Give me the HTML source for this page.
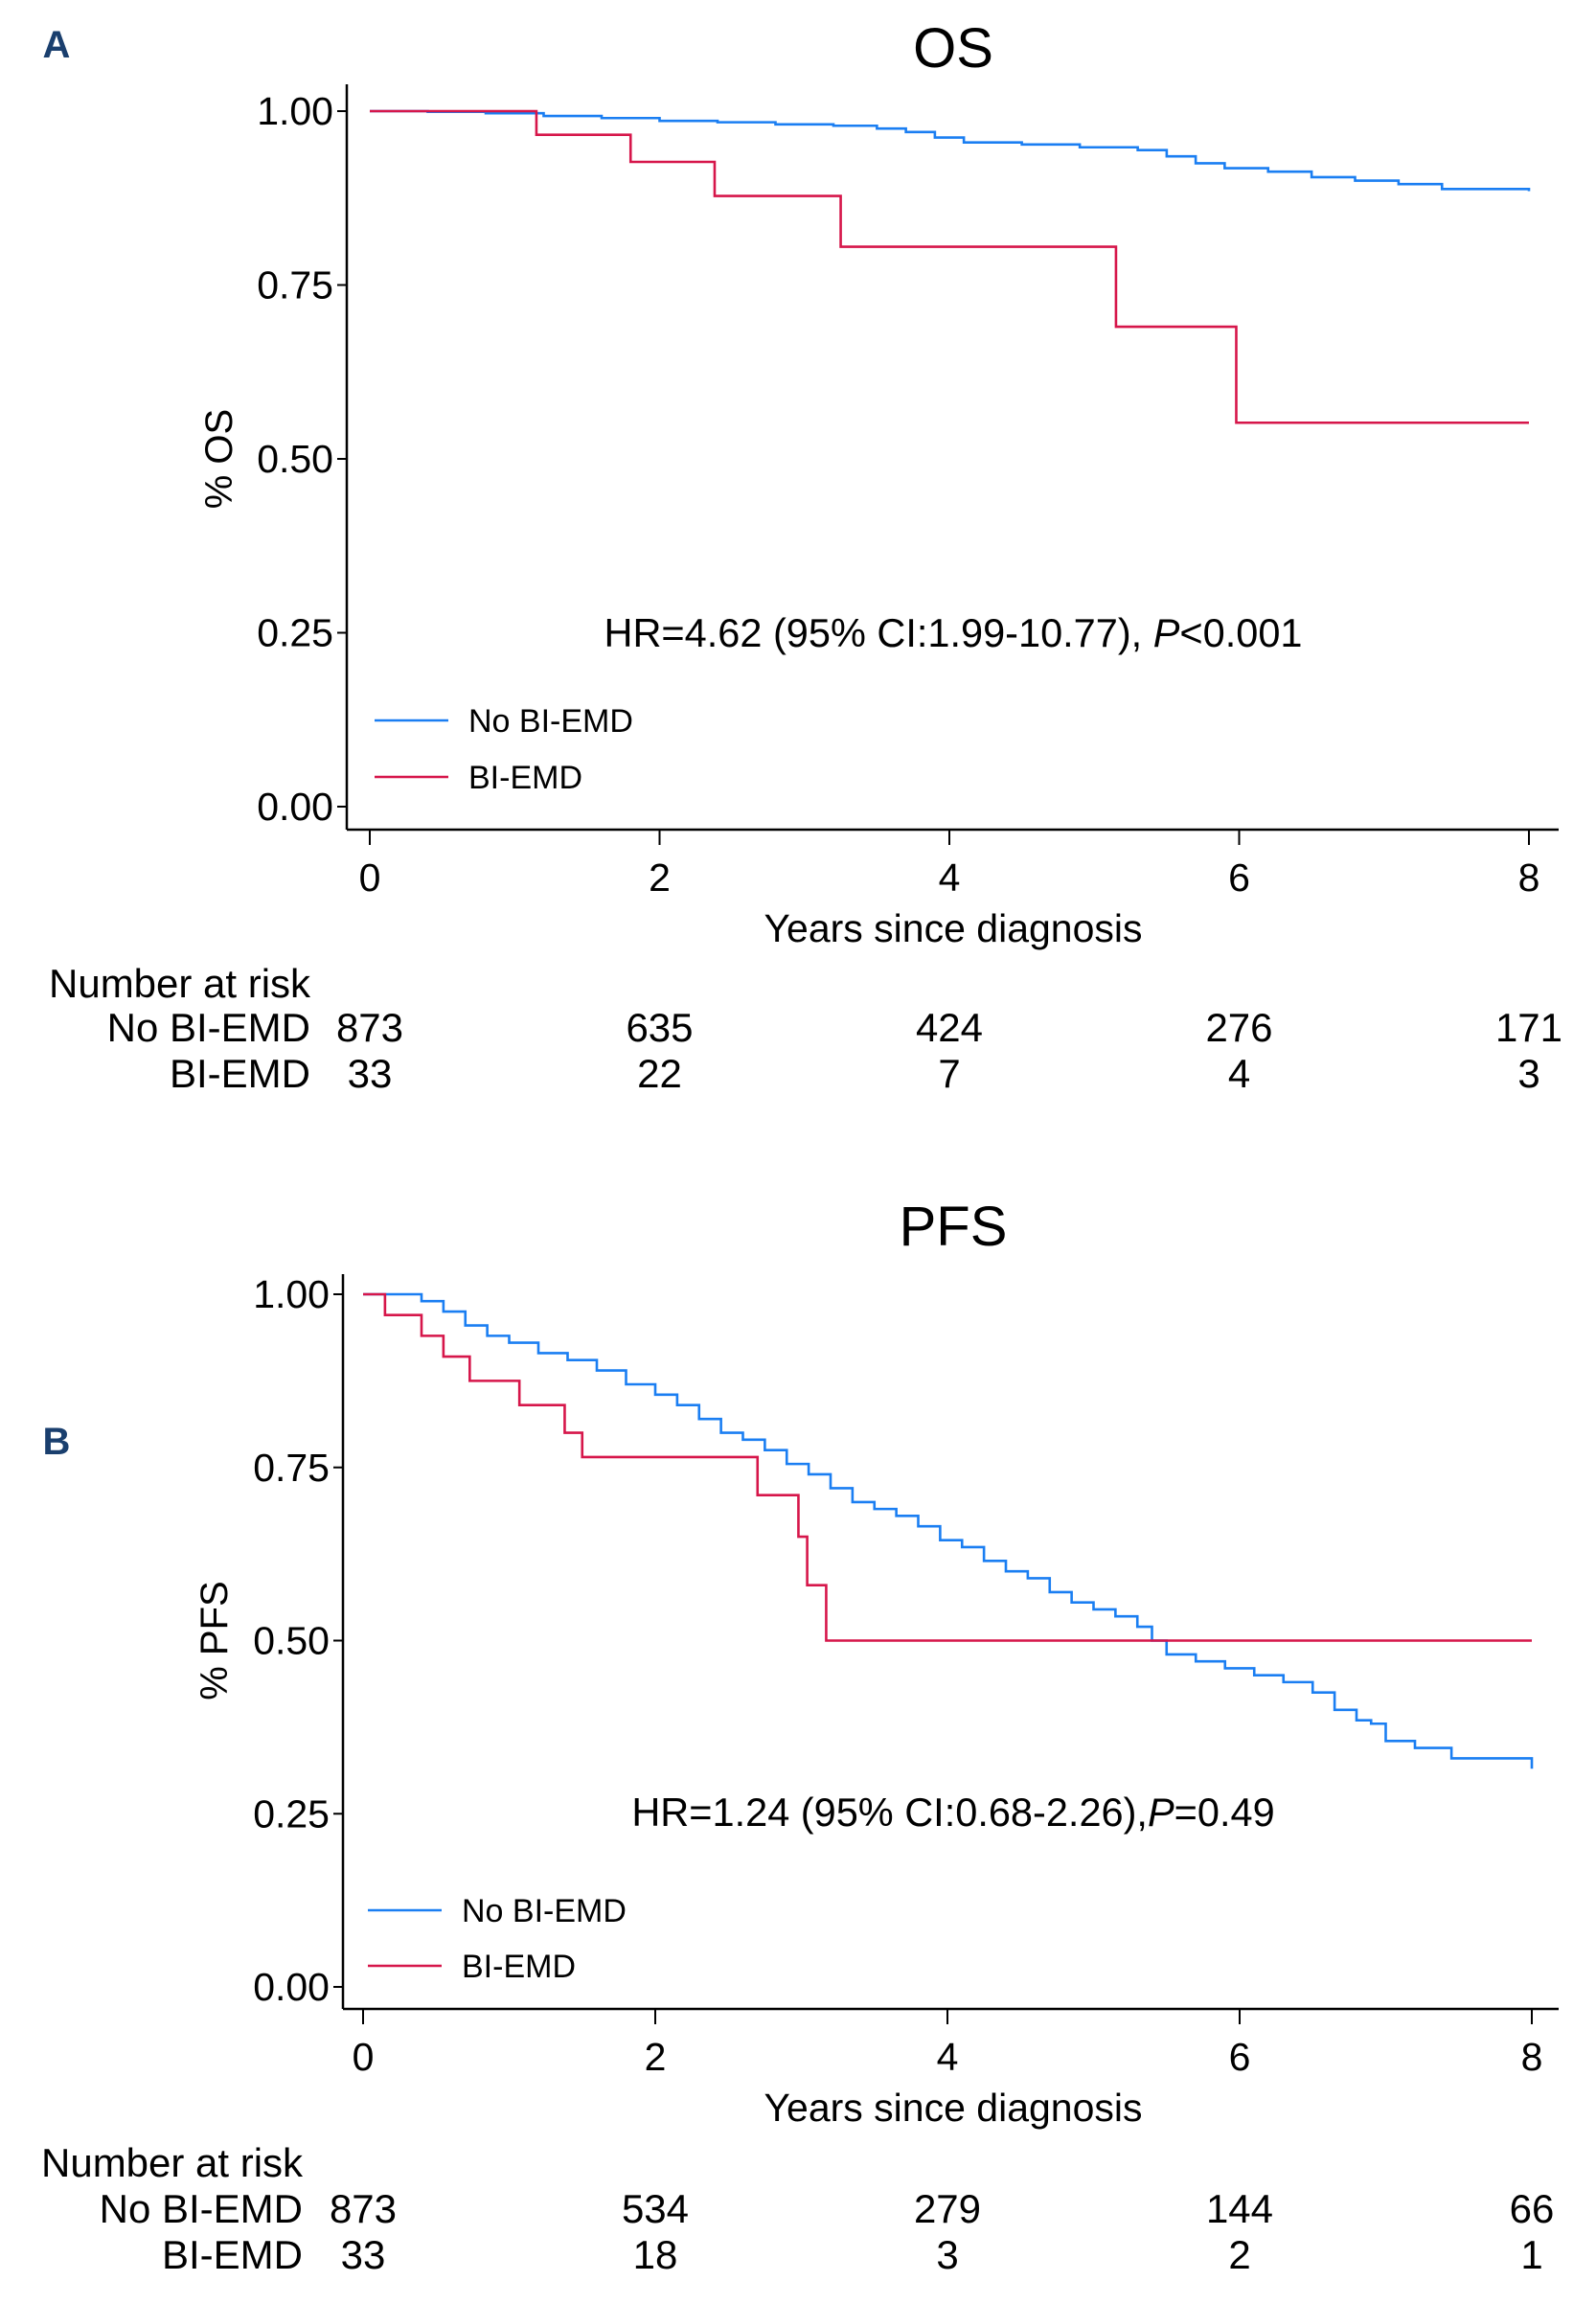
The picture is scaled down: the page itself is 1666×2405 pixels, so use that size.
<!DOCTYPE html>
<html><head><meta charset="utf-8"><style>
body{margin:0;background:#fff;}
svg{display:block;font-family:"Liberation Sans",Arial,sans-serif;}
</style></head><body>
<svg id="fig" width="1666" height="2405" viewBox="0 0 1666 2405" xmlns="http://www.w3.org/2000/svg"></svg>
<script>
// ---- Panel A (OS) data ----
const osBlueT = [0,0.4,0.8,1.2,1.6,2,2.4,2.8,3.2,3.5,3.7,3.9,4.1,4.5,4.9,5.3,5.5,5.7,5.9,6.2,6.5,6.8,7.1,7.4,8];
const osBlueS = [1,0.999,0.997,0.993,0.99,0.986,0.984,0.981,0.979,0.975,0.97,0.962,0.955,0.952,0.948,0.944,0.935,0.925,0.918,0.913,0.905,0.9,0.895,0.888,0.885];
const osRedT = [0,1.15,1.8,2.38,3.25,5.15,5.98,8];
const osRedS = [1,0.966,0.927,0.878,0.805,0.69,0.552,0.552];
const osRiskNo = ["873","635","424","276","171"];
const osRiskBi = ["33","22","7","4","3"];
// ---- Panel B (PFS) data ----
const pfsBlueT = [0,0.25,0.4,0.55,0.7,0.85,1,1.2,1.4,1.6,1.8,2,2.15,2.3,2.45,2.6,2.75,2.9,3.05,3.2,3.35,3.5,3.65,3.8,3.95,4.1,4.25,4.4,4.55,4.7,4.85,5,5.15,5.3,5.4,5.5,5.7,5.9,6.1,6.3,6.5,6.65,6.8,6.9,7,7.2,7.45,7.8,8];
const pfsBlueS = [1,1,0.99,0.975,0.955,0.94,0.93,0.915,0.905,0.89,0.87,0.855,0.84,0.82,0.8,0.79,0.775,0.755,0.74,0.72,0.7,0.69,0.68,0.665,0.645,0.635,0.615,0.6,0.59,0.57,0.555,0.545,0.535,0.52,0.5,0.48,0.47,0.46,0.45,0.44,0.425,0.4,0.385,0.38,0.355,0.345,0.33,0.33,0.315];
const pfsRedT = [0,0.15,0.4,0.55,0.73,1.07,1.38,1.5,2.7,2.98,3.04,3.17,8];
const pfsRedS = [1,0.97,0.94,0.91,0.875,0.84,0.80,0.765,0.71,0.65,0.58,0.5,0.5];
const pfsRiskNo = ["873","534","279","144","66"];
const pfsRiskBi = ["33","18","3","2","1"];
const xTicks = [0,2,4,6,8];
const yTicks = [0,0.25,0.5,0.75,1];
const yTickLabels = ["0.00","0.25","0.50","0.75","1.00"];

const NS="http://www.w3.org/2000/svg";
const svg=document.getElementById('fig');
function mk(tag,attrs,parent){const e=document.createElementNS(NS,tag);for(const k in attrs)e.setAttribute(k,attrs[k]);(parent||svg).appendChild(e);return e;}
function txt(s,x,y,size,anchor,parent,extra){const t=mk('text',Object.assign({x:x,y:y,'font-size':size,'text-anchor':anchor||'start',fill:'#000'},extra||{}),parent);t.textContent=s;return t;}

function panel(p){
  const g=mk('g',{});
  
  
  const X=t=>p.x0+(p.x8-p.x0)*t/8;
  const Y=v=>p.y0+(p.y1-p.y0)*v;
  let e=txt(p.letter,59,p.letterY,40,'middle',g,{'font-weight':'bold',fill:'#1a3f6e'});
  
  e=txt(p.title,995,p.titleY,58,'middle',g);
  
  e=mk('line',{x1:p.ax,y1:p.axTop,x2:p.ax,y2:p.axBot,stroke:'#000','stroke-width':2.5},g);
  
  e=mk('line',{x1:p.ax,y1:p.axBot,x2:1627,y2:p.axBot,stroke:'#000','stroke-width':2.5},g);
  
  yTicks.forEach((v,i)=>{
    mk('line',{x1:p.ax-10,y1:Y(v),x2:p.ax,y2:Y(v),stroke:'#000','stroke-width':2},g);
    const t=txt(yTickLabels[i],p.ax-14,Y(v)+14,41,'end',g);
    
  });
  xTicks.forEach(v=>{
    mk('line',{x1:X(v),y1:p.axBot,x2:X(v),y2:p.axBot+16,stroke:'#000','stroke-width':2},g);
    const t=txt(String(v),X(v),p.axBot+64,41,'middle',g);
    
  });
  e=txt('Years since diagnosis',995,p.axBot+117,41,'middle',g);
  
  const yc=(p.y0+p.y1)/2;
  e=txt(p.ylab,p.ylabX,yc,40,'middle',g,{transform:`rotate(-90 ${p.ylabX} ${yc})`});
  
  function step(T,S,color,name){
    let d=`M${X(T[0])},${Y(S[0])}`;
    for(let i=1;i<T.length;i++){d+=` H${X(T[i])} V${Y(S[i])}`;}
    const path=mk('path',{d:d,fill:'none',stroke:color,'stroke-width':2.6},g);
    
    
  }
  step(p.bT,p.bS,'#1a7ef2','curve-no-bi-emd');
  step(p.rT,p.rS,'#d6164a','curve-bi-emd');
  e=txt('',995,p.hrY,41.5,'middle',g);
  
  e.innerHTML=p.hr;
  const lg=mk('g',{},g);
  
  mk('line',{x1:p.lx,y1:p.l1,x2:p.lx+77,y2:p.l1,stroke:'#1a7ef2','stroke-width':2.6},lg);
  e=txt('No BI-EMD',p.lx+98,p.l1+12,34,'start',lg);
  
  mk('line',{x1:p.lx,y1:p.l2,x2:p.lx+77,y2:p.l2,stroke:'#d6164a','stroke-width':2.6},lg);
  e=txt('BI-EMD',p.lx+98,p.l2+12,34,'start',lg);
  
  const rt=mk('g',{},g);
  
  txt('Number at risk',p.rx,p.r0,42,'start',rt);
  txt('No BI-EMD',p.rr,p.r1,42,'end',rt);
  txt('BI-EMD',p.rr,p.r2,42,'end',rt);
  xTicks.forEach((v,i)=>{
    txt(p.rNo[i],X(v),p.r1,42,'middle',rt);
    txt(p.rBi[i],X(v),p.r2,42,'middle',rt);
  });
}
panel({name:'panel-a-os',letter:'A',letterY:60,title:'OS',titleY:70,x0:386,x8:1596,y0:842,y1:116,ax:362,axTop:88,axBot:866,
  ylab:'% OS',ylabX:242,bT:osBlueT,bS:osBlueS,rT:osRedT,rS:osRedS,
  hr:'HR=4.62 (95% CI:1.99-10.77), <tspan font-style="italic">P</tspan>&lt;0.001',hrY:675,
  lx:391,l1:752,l2:811,rx:51,rr:324,r0:1041,r1:1087,r2:1135,rNo:osRiskNo,rBi:osRiskBi});
panel({name:'panel-b-pfs',letter:'B',letterY:1518,title:'PFS',titleY:1300,x0:379,x8:1599,y0:2074,y1:1351,ax:358,axTop:1330,axBot:2097,
  ylab:'% PFS',ylabX:237,bT:pfsBlueT,bS:pfsBlueS,rT:pfsRedT,rS:pfsRedS,
  hr:'HR=1.24 (95% CI:0.68-2.26),<tspan font-style="italic">P</tspan>=0.49',hrY:1906,
  lx:384,l1:1994,l2:2052,rx:43,rr:316,r0:2272,r1:2320,r2:2368,rNo:pfsRiskNo,rBi:pfsRiskBi});
</script>
</body></html>
